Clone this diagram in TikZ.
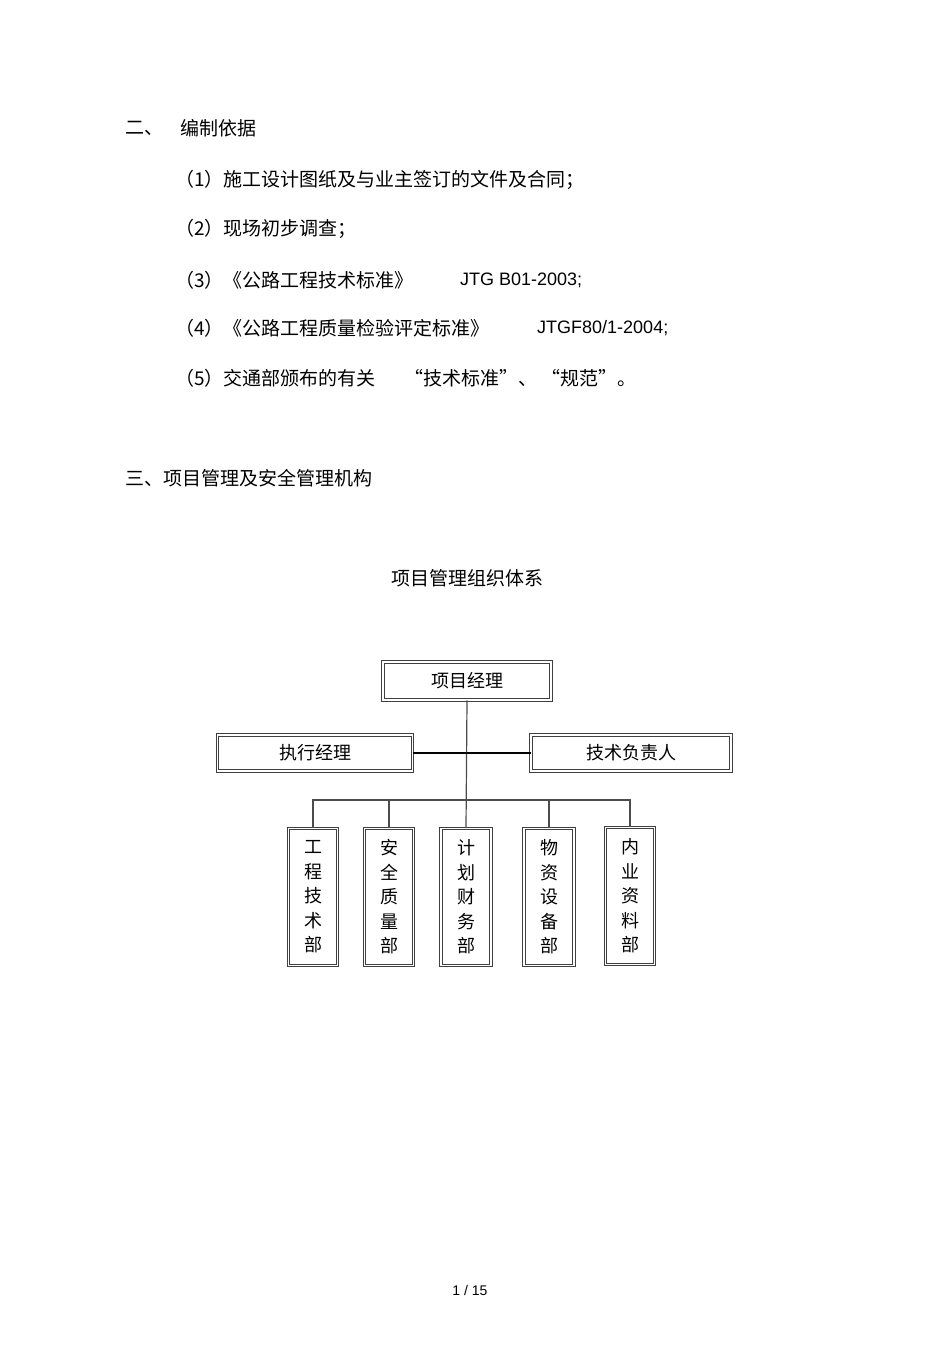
\documentclass[tikz,border=0pt]{standalone}
\usepackage{fontspec}
\setmainfont{Liberation Sans}
\newfontfamily\cjk{Noto Sans CJK SC}
\begin{document}
\begin{tikzpicture}[x=1pt,y=-1pt,
  txt/.style={anchor=west,inner sep=0pt,font=\cjk\fontsize{19}{19}\selectfont},
  lat/.style={anchor=west,inner sep=0pt,font=\fontsize{18}{18}\selectfont},
  box/.style={draw=black!75,double=white,double distance=1.6pt,line width=0.9pt,inner sep=0pt,font=\cjk\fontsize{18}{18}\selectfont},
  vbox/.style={box,align=center,font=\cjk\fontsize{18}{24.5}\selectfont},
  ln/.style={draw=black!70,line width=1.2pt}]
\useasboundingbox (0,0) rectangle (950,1345);
\fill[white] (0,0) rectangle (950,1345);
\node[txt] (h2) at (125,128) {二、};
\node[txt] (h2b) at (180,128) {编制依据};
\node[txt] (i1) at (175,180) {（1）施工设计图纸及与业主签订的文件及合同；};
\node[txt] (i2) at (175,229) {（2）现场初步调查；};
\node[txt] (i3) at (175,280) {（3）《公路工程技术标准》};
\node[lat] (i3b) at (460,280) {JTG B01-2003;};
\node[txt] (i4) at (175,328) {（4）《公路工程质量检验评定标准》};
\node[lat] (i4b) at (537,328) {JTGF80/1-2004;};
\node[txt] (i5) at (175,378) {（5）交通部颁布的有关};
\node[txt] (i5b) at (404,378) {“技术标准”、};
\node[txt] (i5c) at (541,378) {“规范”。};
\node[txt] (h3) at (125,478) {三、项目管理及安全管理机构};
\node[anchor=center,inner sep=0pt,font=\cjk\fontsize{19}{19}\selectfont] (title) at (467,578) {项目管理组织体系};

\node[box,minimum width=168,minimum height=38] (pm) at (467,681) {项目经理};
\node[box,minimum width=195,minimum height=36] (em) at (315,753) {执行经理};
\node[box,minimum width=200,minimum height=36] (te) at (631,753) {技术负责人};
\node[vbox,minimum width=49,minimum height=137] (d1) at (313,897) {工\\程\\技\\术\\部};
\node[vbox,minimum width=49,minimum height=137] (d2) at (389,897) {安\\全\\质\\量\\部};
\node[vbox,minimum width=50,minimum height=137] (d3) at (466,897) {计\\划\\财\\务\\部};
\node[vbox,minimum width=50,minimum height=137] (d4) at (549,897) {物\\资\\设\\备\\部};
\node[vbox,minimum width=49,minimum height=137] (d5) at (630,896) {内\\业\\资\\料\\部};
\coordinate (bus) at (467,800);
\draw[ln] (pm.south) -- (d3.north);
\draw[line width=2pt] (em.east) -- (te.west);
\draw[ln] (d1.north) |- (bus) -| (d5.north);
\draw[ln] (d2.north) -- (d2.north |- bus);
\draw[ln] (d4.north) -- (d4.north |- bus);
\node[anchor=center,inner sep=0pt,font=\fontsize{14}{14}\selectfont] (pg) at (470,1290) {1 / 15};
\end{tikzpicture}
\end{document}
